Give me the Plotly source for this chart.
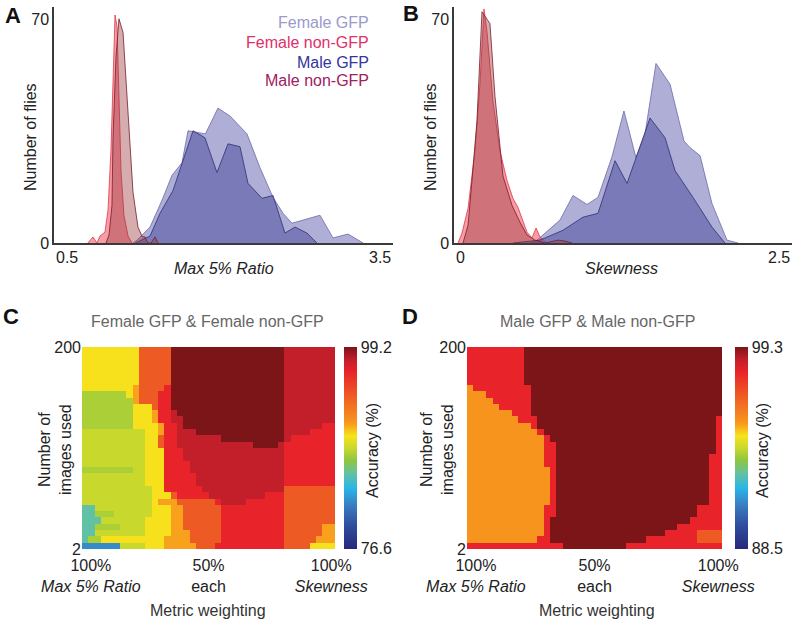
import plotly.graph_objects as go

# ---------------- data ----------------
# Panel A : Max 5% Ratio distributions (number of flies)
a_fem_gfp_x = [1.20, 1.235, 1.35, 1.456, 1.544, 1.633, 1.686, 1.84, 1.951, 2.058, 2.208, 2.323, 2.438, 2.527, 2.606, 2.704, 2.854, 2.969, 3.102, 3.235]
a_fem_gfp_y = [0, 0.9, 5, 13.4, 21.2, 25.2, 35.2, 34.2, 42.3, 39.8, 34.2, 23.6, 14.3, 9.3, 6.2, 7.2, 8.7, 1.6, 2.8, 0]
a_fem_non_x = [0.80, 0.845, 0.88, 0.907, 0.951, 0.978, 1.004, 1.022, 1.040, 1.058, 1.075, 1.093, 1.119, 1.155, 1.19]
a_fem_non_y = [0, 1.9, 0, 2.2, 3.4, 10.3, 28.9, 50.7, 71.5, 67.8, 44.5, 22.7, 8.7, 2.2, 0]
a_male_gfp_x = [1.22, 1.35, 1.438, 1.553, 1.633, 1.730, 1.836, 1.942, 2.040, 2.146, 2.217, 2.341, 2.438, 2.544, 2.633, 2.739, 2.827]
a_male_gfp_y = [0, 2.2, 9.3, 16.5, 24.9, 35.2, 33.0, 22.1, 31.1, 30.2, 18.7, 14.0, 14.9, 3.1, 5.0, 3.1, 0]
a_male_non_x = [0.96, 0.987, 1.013, 1.022, 1.049, 1.075, 1.111, 1.146, 1.173, 1.199, 1.243, 1.28, 1.305, 1.33, 1.36, 1.394, 1.42]
a_male_non_y = [0, 2.5, 11.8, 32.7, 58.5, 70.3, 66.0, 46.0, 30.0, 16.0, 5.0, 2.0, 1.9, 0, 0, 1.9, 0]

# Panel B : Skewness distributions (number of flies)
b_fem_gfp_x = [0.562, 0.614, 0.784, 0.880, 0.984, 1.065, 1.169, 1.257, 1.346, 1.413, 1.494, 1.598, 1.701, 1.746, 1.820, 1.908, 2.019, 2.101]
b_fem_gfp_y = [0, 0.9, 7.2, 14.9, 12.1, 14.3, 27.1, 41.4, 26.8, 34.2, 56.3, 49.8, 32.0, 29.9, 27.4, 12.4, 0.9, 0]
b_fem_non_x = [0.03, 0.059, 0.104, 0.155, 0.192, 0.222, 0.244, 0.288, 0.340, 0.392, 0.436, 0.473, 0.540, 0.577, 0.607, 0.636, 0.688]
b_fem_non_y = [0, 3.1, 10.9, 28.9, 49.8, 73.4, 66.3, 44.5, 28.9, 19.6, 14.0, 11.2, 3.4, 1.6, 4.7, 1.9, 0]
b_male_gfp_x = [0.436, 0.636, 0.806, 0.954, 1.065, 1.191, 1.280, 1.450, 1.561, 1.635, 1.768, 1.908, 2.004]
b_male_gfp_y = [0, 0.9, 4.0, 8.1, 9.3, 25.8, 18.7, 39.2, 33.0, 22.7, 14.3, 5.0, 0]
b_male_non_x = [0.067, 0.104, 0.133, 0.170, 0.207, 0.266, 0.303, 0.362, 0.429, 0.488, 0.540, 0.599, 0.673, 0.769, 0.821, 0.873]
b_male_non_y = [0, 5.6, 19.6, 38.3, 72.5, 68.8, 46.0, 21.0, 11.8, 6.5, 2.5, 0.9, 0, 0.9, 0.6, 0]

series_names = ["Female GFP", "Female non-GFP", "Male GFP", "Male non-GFP"]

# Panels C / D : accuracy (%) maps, rows top (200 images) -> bottom (2 images),
# 40 columns from 100% Max 5% Ratio to 100% Skewness; run-length "code:count"
C_LEVELS = {"9": 99.2, "8": 97.8, "7": 96.5, "6": 93.8, "5": 90.5, "4": 89.3,
            "3": 87.9, "2": 87.2, "1": 85.0, "0": 82.0}
C_ROWS = [
    "4:9 6:5 9:18 8:8",
    "4:9 6:5 9:18 8:8",
    "4:9 6:5 9:18 8:8",
    "4:9 6:5 9:18 8:8",
    "4:9 6:5 9:18 8:8",
    "4:9 6:5 9:18 8:8",
    "4:8 5:1 6:4 7:1 9:18 8:8",
    "2:7 4:1 5:1 6:3 7:2 9:18 8:8",
    "2:8 5:1 6:3 7:2 9:18 8:8",
    "2:8 4:3 6:1 7:2 9:18 8:8",
    "2:8 4:3 5:1 7:2 8:1 9:17 8:8",
    "2:8 4:3 5:1 7:2 8:2 9:16 8:8",
    "2:8 4:4 5:1 7:2 8:1 9:16 8:6 7:2",
    "3:10 4:2 5:1 7:2 8:3 9:14 8:4 7:4",
    "3:10 4:2 6:1 7:2 8:7 9:10 8:1 7:7",
    "3:10 4:2 6:1 7:2 8:12 9:4 8:1 7:8",
    "3:10 4:3 7:3 8:16 7:8",
    "3:10 4:3 7:3 8:16 7:8",
    "3:10 4:3 7:4 8:15 7:8",
    "2:8 3:2 4:3 7:4 8:15 7:8",
    "3:10 4:3 7:5 8:14 7:8",
    "3:10 4:3 7:5 8:14 7:8",
    "3:11 4:2 7:6 8:13 6:8",
    "3:11 4:3 6:1 7:5 8:9 7:3 6:8",
    "3:11 4:1 5:3 6:6 7:1 8:4 7:6 6:8",
    "1:2 3:9 4:3 5:2 6:6 7:10 6:8",
    "1:2 2:3 3:6 4:3 5:2 6:6 7:10 6:8",
    "1:3 3:7 4:4 5:2 6:6 7:10 6:8",
    "1:2 2:4 3:4 4:4 5:2 6:6 7:10 6:6 5:2",
    "1:2 3:8 4:4 5:3 6:5 7:10 6:6 5:2",
    "1:1 2:2 4:10 5:4 6:5 7:10 6:5 5:3",
    "0:6 3:4 4:3 5:5 6:3 7:11 6:4 4:4",
]
D_LEVELS = {"9": 99.3, "7": 98.0, "6": 96.7, "5": 95.3}
D_ROWS = [
    "7:9 9:31",
    "7:9 9:31",
    "7:9 9:31",
    "7:9 9:31",
    "7:9 9:31",
    "7:9 9:31",
    "5:1 7:9 9:30",
    "5:3 7:7 9:30",
    "5:4 7:6 9:30",
    "5:5 7:5 9:30",
    "5:7 7:3 9:30",
    "5:8 7:3 9:28 7:1",
    "5:10 7:1 9:28 7:1",
    "5:11 7:1 9:27 7:1",
    "5:12 7:1 9:26 7:1",
    "5:12 7:2 9:25 7:1",
    "5:12 7:2 9:25 7:1",
    "5:12 7:2 9:24 7:2",
    "5:12 7:2 9:24 7:2",
    "5:13 7:1 9:24 7:2",
    "5:13 7:1 9:24 7:2",
    "5:13 7:1 9:24 7:2",
    "5:13 7:1 9:24 7:2",
    "5:13 7:1 9:24 7:2",
    "5:13 7:1 9:24 7:2",
    "5:12 7:2 9:22 7:4",
    "5:12 7:2 9:22 7:4",
    "5:12 7:1 9:22 7:5",
    "5:12 7:1 9:20 7:7",
    "5:12 7:1 9:18 7:5 6:4",
    "5:11 7:2 9:15 7:8 6:4",
    "7:15 9:10 7:15",
]
C_RANGE = [76.6, 99.2]
D_RANGE = [88.5, 99.3]
weight_ticks = ["100%<br><i>Max 5% Ratio</i>", "50%<br>each", "100%<br><i>Skewness</i>"]
images_range = [2, 200]


def decode(rows, levels):
    grid = []
    for row in rows:
        vals = []
        for tok in row.split():
            code, n = tok.split(":")
            vals += [levels[code]] * int(n)
        grid.append(vals)
    return grid[::-1]


# ---------------- styling ----------------
W, H = 798, 622
FONT = "Liberation Sans, Arial, sans-serif"
TXT = "#222222"


def fx(p):
    return p / W


def fy(p):
    return (H - p) / H


FILLS = ["rgba(108,108,180,0.55)", "rgba(240,60,75,0.5)", "rgba(80,80,163,0.55)", "rgba(150,50,55,0.4)"]
LINES = ["#6a6aa8", "#e0364a", "#2e2e72", "#7a1a2a"]
LABEL_COLORS = ["#9a9acc", "#e0306a", "#3535a0", "#a02060"]

JET = [[0.0, "#27287a"], [0.12, "#2f4f9f"], [0.22, "#3a7fc2"], [0.30, "#29b5e8"],
       [0.37, "#5fc1a6"], [0.44, "#8fc640"], [0.50, "#c9d82d"], [0.56, "#f6e31c"],
       [0.615, "#f7a11d"], [0.63, "#f7941e"], [0.76, "#ee5a24"], [0.88, "#e8232a"],
       [0.94, "#c11f2a"], [1.0, "#7b1517"]]

fig = go.Figure()

hist_sets = [
    ("x", "y", [(a_fem_gfp_x, a_fem_gfp_y), (a_fem_non_x, a_fem_non_y),
                (a_male_gfp_x, a_male_gfp_y), (a_male_non_x, a_male_non_y)]),
    ("x2", "y2", [(b_fem_gfp_x, b_fem_gfp_y), (b_fem_non_x, b_fem_non_y),
                  (b_male_gfp_x, b_male_gfp_y), (b_male_non_x, b_male_non_y)]),
]
for xa, ya, sets in hist_sets:
    for k, (xs, ys) in enumerate(sets):
        fig.add_trace(go.Scatter(
            x=xs, y=ys, mode="lines", fill="tozeroy", fillcolor=FILLS[k],
            line=dict(color=LINES[k], width=0.8), name=series_names[k],
            xaxis=xa, yaxis=ya, showlegend=False, hoverinfo="skip"))

ny = len(C_ROWS)
dy = (images_range[1] - images_range[0]) / ny
ncol = 40
dxw = 100 / ncol

fig.add_trace(go.Heatmap(
    z=decode(C_ROWS, C_LEVELS), x0=dxw / 2, dx=dxw, y0=images_range[0] + dy / 2, dy=dy,
    colorscale=JET, zmin=C_RANGE[0], zmax=C_RANGE[1], zsmooth=False,
    xaxis="x3", yaxis="y3",
    colorbar=dict(x=fx(344), xanchor="left", thickness=13, thicknessmode="pixels",
                  len=(549 - 347) / H, lenmode="fraction", y=fy(448), yanchor="middle",
                  outlinewidth=0, xpad=0, ypad=0, ticks="",
                  tickvals=[C_RANGE[0] + 0.05, C_RANGE[1] - 0.05],
                  ticktext=[str(C_RANGE[0]), str(C_RANGE[1])],
                  tickfont=dict(size=16, color=TXT, family=FONT))))

fig.add_trace(go.Heatmap(
    z=decode(D_ROWS, D_LEVELS), x0=dxw / 2, dx=dxw, y0=images_range[0] + dy / 2, dy=dy,
    colorscale=JET, zmin=D_RANGE[0], zmax=D_RANGE[1], zsmooth=False,
    xaxis="x4", yaxis="y4",
    colorbar=dict(x=fx(735), xanchor="left", thickness=13, thicknessmode="pixels",
                  len=(549 - 347) / H, lenmode="fraction", y=fy(448), yanchor="middle",
                  outlinewidth=0, xpad=0, ypad=0, ticks="",
                  tickvals=[D_RANGE[0] + 0.03, D_RANGE[1] - 0.03],
                  ticktext=[str(D_RANGE[0]), str(D_RANGE[1])],
                  tickfont=dict(size=16, color=TXT, family=FONT))))

hist_y_dom = [fy(243), fy(7)]
axis_line = dict(showline=True, linecolor="#3a3a3a", linewidth=1.5, showgrid=False,
                 zeroline=False, ticks="")
heat_x = dict(range=[0, 100], showgrid=False, zeroline=False, ticks="",
              tickvals=[3.5, 50, 98.5], ticktext=weight_ticks, tickfont=dict(size=16),
              ticklabelstandoff=5)
heat_y = dict(range=images_range, showgrid=False, zeroline=False, ticks="",
              tickvals=[200, 2], tickfont=dict(size=16))
fig.update_layout(
    width=W, height=H, margin=dict(l=0, r=0, t=0, b=0, autoexpand=False),
    paper_bgcolor="white", plot_bgcolor="white",
    font=dict(family=FONT, size=16, color=TXT),
    xaxis=dict(domain=[fx(54), fx(393)], range=[0.5, 3.5], showticklabels=False, anchor="y", **axis_line),
    yaxis=dict(domain=hist_y_dom, range=[0, 74], tickvals=[0, 70], anchor="x",
               tickfont=dict(size=16), **axis_line),
    xaxis2=dict(domain=[fx(454), fx(792)], range=[0, 2.5], showticklabels=False, anchor="y2", **axis_line),
    yaxis2=dict(domain=hist_y_dom, range=[0, 74], tickvals=[0, 70], anchor="x2",
                tickfont=dict(size=16), **axis_line),
    xaxis3=dict(domain=[fx(82), fx(335)], anchor="y3", **heat_x),
    yaxis3=dict(domain=[fy(549), fy(347)], anchor="x3", **heat_y),
    xaxis4=dict(domain=[fx(467), fx(722)], anchor="y4", **heat_x),
    yaxis4=dict(domain=[fy(549), fy(347)], anchor="x4", **heat_y),
)

ann = []


def text(x, y, s, size=16, color=TXT, angle=0, xanchor="center", bold=False, xref="paper"):
    ann.append(dict(x=x, y=y, xref=xref, yref="paper", text=("<b>%s</b>" % s) if bold else s,
                    showarrow=False, textangle=angle, xanchor=xanchor, yanchor="middle",
                    font=dict(size=size, color=color, family=FONT)))


# panel letters
text(fx(13), fy(16), "A", size=22, color="#111", bold=True)
text(fx(411), fy(14), "B", size=22, color="#111", bold=True)
text(fx(11), fy(316), "C", size=22, color="#111", bold=True)
text(fx(410), fy(316), "D", size=22, color="#111", bold=True)

# legend (coloured text)
for k, (name, yy) in enumerate(zip(series_names, [23, 43, 62, 80])):
    text(fx(371), fy(yy), name, size=16, color=LABEL_COLORS[k], xanchor="right")

# histogram axis labels
text(0.5, fy(257), "0.5", xanchor="left", xref="x")
text(3.5, fy(257), "3.5", xanchor="right", xref="x")
text(0, fy(257), "0", xanchor="left", xref="x2")
text(2.5, fy(257), "2.5", xanchor="right", xref="x2")
text(fx(224), fy(268), "<i>Max 5% Ratio</i>")
text(fx(621), fy(268), "<i>Skewness</i>")
text(fx(30), fy(137), "Number of flies", angle=-90)
text(fx(430), fy(137), "Number of flies", angle=-90)

# heatmap titles and labels
text(fx(207), fy(322), "Female GFP &amp; Female non-GFP", color="#666666")
text(fx(597), fy(322), "Male GFP &amp; Male non-GFP", color="#666666")
text(fx(208), fy(610), "Metric weighting", color="#333333")
text(fx(597), fy(610), "Metric weighting", color="#333333")
text(fx(55), fy(450), "Number of<br>images used", angle=-90)
text(fx(437), fy(450), "Number of<br>images used", angle=-90)
text(fx(372), fy(451), "Accuracy (%)", angle=-90)
text(fx(762), fy(451), "Accuracy (%)", angle=-90)

fig.update_layout(annotations=ann)
fig.write_html("out.html", config={"displayModeBar": False},
               post_script="document.body.style.margin='0px';document.body.style.overflow='hidden';")
